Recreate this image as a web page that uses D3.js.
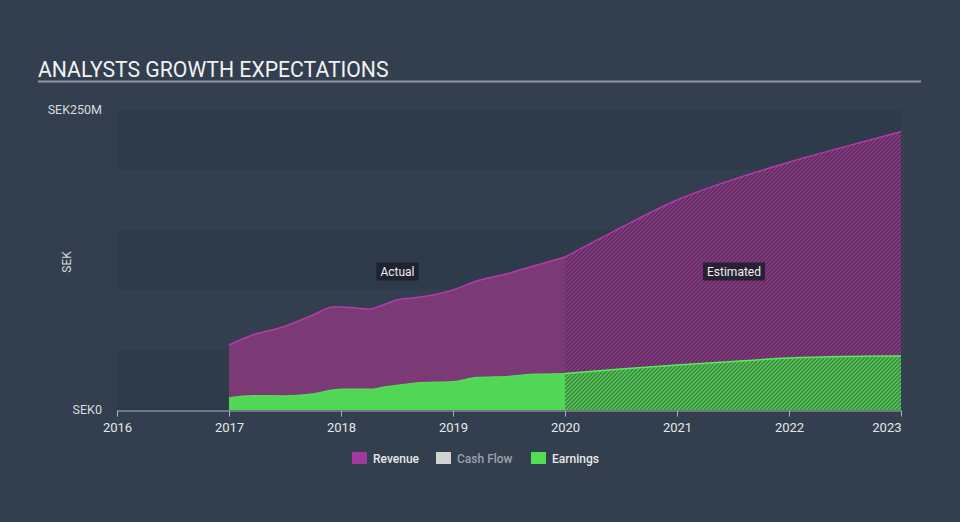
<!DOCTYPE html>
<html><head><meta charset="utf-8">
<script src="https://cdn.jsdelivr.net/npm/d3@7"></script>
<style>
html,body{margin:0;padding:0;background:#333f4f;}
svg{display:block;font-family:Roboto,"Noto Sans",sans-serif;}
</style></head>
<body>
<svg id="chart" width="960" height="522"></svg>
<script>
// ---- data (SEK millions, x in decimal years) ----
const actualX        = [2017.0, 2017.21, 2017.48, 2017.75, 2017.93, 2018.0, 2018.26, 2018.35, 2018.5, 2018.64, 2018.82, 2019.0, 2019.21, 2019.5, 2019.68, 2020.0];
const actualRevenue  = [54.2, 62.5, 69.2, 79.2, 85.8, 85.8, 84.2, 86.7, 91.7, 93.3, 95.8, 100, 107.5, 114, 119, 127.5];
const actualEarnX    = [2017.0, 2017.21, 2017.48, 2017.75, 2017.93, 2018.0, 2018.26, 2018.38, 2018.53, 2018.71, 2019.0, 2019.21, 2019.5, 2019.71, 2020.0];
const actualEarnings = [10, 11.9, 11.7, 13.3, 16.7, 17.2, 17.2, 19, 20.8, 22.8, 23.6, 27, 28, 29.7, 30.3];
const estX           = [2020.0, 2020.5, 2021.0, 2021.5, 2022.0, 2022.5, 2023.0];
const estRevenue     = [127.5, 152, 175, 192, 206.5, 219.5, 232];
const estEarnings    = [30.5, 34.2, 37.5, 40.5, 43.3, 44.6, 45];
const yearTicks      = [2016, 2017, 2018, 2019, 2020, 2021, 2022, 2023];
const yTickValues    = [0, 250];
const yTickLabels    = ["SEK0", "SEK250M"];
const legendItems    = ["Revenue", "Cash Flow", "Earnings"];
const legendColors   = ["#a2399e", "#d2d2d2", "#52dd55"];
const legendText     = ["#e8e8e8", "#9aa3ad", "#e8e8e8"];

const svg = d3.select("#chart");
const W = 960, H = 522;
const x = d3.scaleLinear().domain([2016, 2023]).range([117, 901]);
const y = d3.scaleLinear().domain([0, 250]).range([410, 110]);

// defs: hatch patterns
const defs = svg.append("defs");
function hatch(id, bg, stripe) {
  const p = defs.append("pattern").attr("id", id).attr("patternUnits", "userSpaceOnUse")
    .attr("width", 4).attr("height", 4);
  p.append("rect").attr("width", 4).attr("height", 4).attr("fill", bg);
  p.append("path").attr("d", "M-1,1 l2,-2 M0,4 l4,-4 M3,5 l2,-2")
    .attr("stroke", stripe).attr("stroke-width", 1.2);
}
hatch("hatchRev", "#5f2e5e", "#8f3c8b");
hatch("hatchEarn", "#3b8a3f", "#5ad35c");

// background
svg.append("rect").attr("width", W).attr("height", H).attr("fill", "#333f4f");

// bands
const bands = [[200, 250], [100, 150], [0, 50]];
svg.append("g").selectAll("rect").data(bands).join("rect")
  .attr("x", x(2016)).attr("width", x(2023) - x(2016))
  .attr("y", d => y(d[1])).attr("height", d => y(d[0]) - y(d[1]))
  .attr("fill", "#2e3b4b");

// title
svg.append("text").attr("x", 38).attr("y", 76.5).attr("fill", "#f2f2f2")
  .attr("font-size", 21.2).text("ANALYSTS GROWTH EXPECTATIONS");
svg.append("line").attr("x1", 38).attr("x2", 921).attr("y1", 81.5).attr("y2", 81.5)
  .attr("stroke", "#8d97a1").attr("stroke-width", 2);

// areas
const area = (xs, vs) => d3.area().curve(d3.curveMonotoneX)
  .x((d, i) => x(xs[i])).y0(y(0)).y1((d, i) => y(vs[i]))(vs);
const line = (xs, vs) => d3.line().curve(d3.curveMonotoneX)
  .x((d, i) => x(xs[i])).y((d, i) => y(vs[i]))(vs);

svg.append("path").attr("d", area(actualX, actualRevenue)).attr("fill", "#7b3a76");
svg.append("path").attr("d", area(estX, estRevenue)).attr("fill", "url(#hatchRev)");
svg.append("path").attr("d", area(actualEarnX, actualEarnings)).attr("fill", "#52d655");
svg.append("path").attr("d", area(estX, estEarnings)).attr("fill", "url(#hatchEarn)");

svg.append("path").attr("d", line(actualX, actualRevenue)).attr("fill", "none").attr("stroke", "#b23ca9").attr("stroke-width", 1.5);
svg.append("path").attr("d", line(estX, estRevenue)).attr("fill", "none").attr("stroke", "#b23ca9").attr("stroke-width", 1.5);
svg.append("path").attr("d", line(actualEarnX, actualEarnings)).attr("fill", "none").attr("stroke", "#56db58").attr("stroke-width", 1.5);
svg.append("path").attr("d", line(estX, estEarnings)).attr("fill", "none").attr("stroke", "#5ee95f").attr("stroke-width", 1.5);

// x axis
const xAxis = svg.append("g").attr("transform", `translate(0,${y(0) + 0.5})`)
  .call(d3.axisBottom(x).tickValues(yearTicks).tickFormat(d3.format("d")).tickSize(6).tickSizeOuter(0));
xAxis.select(".domain").attr("stroke", "#a8b0b8");
xAxis.selectAll(".tick line").attr("stroke", "#a8b0b8");
xAxis.selectAll(".tick text").attr("fill", "#e4e6e8").attr("font-size", 13).attr("dy", "0.95em")
  .attr("font-family", "Roboto, sans-serif")
  .attr("text-anchor", d => d === 2023 ? "end" : "middle");

// y labels
svg.append("g").selectAll("text").data(yTickValues).join("text")
  .attr("x", 102).attr("y", d => y(d) + 4).attr("text-anchor", "end")
  .attr("fill", "#d8dbde").attr("font-size", 12.5).text((d, i) => yTickLabels[i]);
svg.append("text").attr("transform", `translate(71,262) rotate(-90)`)
  .attr("text-anchor", "middle").attr("fill", "#d8dbde").attr("font-size", 12).text("SEK");

// Actual / Estimated tags
function tag(cx, cy, label) {
  const t = svg.append("text").attr("x", cx).attr("y", cy + 4).attr("text-anchor", "middle")
    .attr("fill", "#f0f0f0").attr("font-size", 12).text(label);
  const b = t.node().getBBox();
  svg.insert("rect", () => t.node()).attr("x", b.x - 4).attr("y", cy - 9)
    .attr("width", b.width + 8).attr("height", 18).attr("fill", "#1e1f2b").attr("fill-opacity", 0.88);
}
tag(397.5, 271.5, "Actual");
tag(734, 271.5, "Estimated");

// legend
const lx = [352, 436, 531];
const lg = svg.append("g");
legendItems.forEach((name, i) => {
  lg.append("rect").attr("x", lx[i]).attr("y", 452).attr("width", 15).attr("height", 12)
    .attr("fill", legendColors[i]);
  lg.append("text").attr("x", lx[i] + 21).attr("y", 462.5).attr("fill", legendText[i])
    .attr("font-size", 12).attr("font-weight", 500).text(name);
});
</script>
</body></html>
